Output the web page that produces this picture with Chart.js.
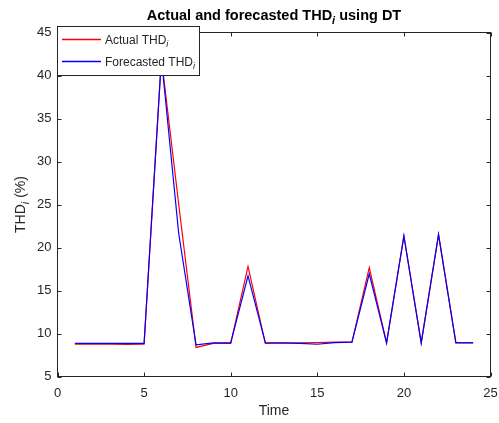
<!DOCTYPE html>
<html>
<head>
<meta charset="utf-8">
<style>
  html, body { margin: 0; padding: 0; background: #fff; }
  #wrap { width: 499px; height: 423px; }
</style>
<script src="https://cdn.jsdelivr.net/npm/chart.js@4"></script>
</head>
<body>
<div id="wrap"><canvas id="thdChart" width="499" height="423"></canvas></div>
<script>
// data
const time = [1, 2, 3, 4, 5, 6, 7, 8, 9, 10, 11, 12, 13, 14, 15, 16, 17, 18, 19, 20, 21, 22, 23, 24];
const actualThd = [8.75, 8.75, 8.75, 8.72, 8.75, 42.0, 25.0, 8.38, 8.85, 8.85, 17.8, 8.85, 8.88, 8.9, 8.95, 9.0, 9.0, 17.65, 8.9, 21.35, 8.9, 21.5, 8.95, 8.95];
const forecastThd = [8.85, 8.85, 8.85, 8.85, 8.85, 42.0, 21.6, 8.69, 8.9, 8.9, 16.7, 8.93, 8.9, 8.85, 8.75, 8.95, 9.0, 16.95, 8.9, 21.35, 8.9, 21.5, 8.9, 8.9];
const xTicks = [0, 5, 10, 15, 20, 25];
const yTicks = [5, 10, 15, 20, 25, 30, 35, 40, 45];
const seriesNames = ['Actual THD', 'Forecasted THD'];
const seriesColors = ['#ff0000', '#0000ff'];

const axisColor = '#262626';
const fontFamily = '"Liberation Sans", Arial, Helvetica, sans-serif';

// text with an italic subscript "i" after the main part
function subText(ctx, parts, x, y, size, bold, align) {
    const w = bold ? 'bold ' : '';
    const mainFont = w + size + 'px ' + fontFamily;
    const subFont = 'italic ' + w + Math.round(size * 0.75) + 'px ' + fontFamily;
    ctx.font = mainFont;
    const w0 = ctx.measureText(parts[0]).width;
    ctx.font = subFont;
    const w1 = ctx.measureText('i').width;
    ctx.font = mainFont;
    const w2 = parts[1] ? ctx.measureText(parts[1]).width : 0;
    const total = w0 + w1 + w2;
    let sx = x;
    if (align === 'center') sx = x - total / 2;
    ctx.textAlign = 'left';
    ctx.textBaseline = 'alphabetic';
    ctx.fillText(parts[0], sx, y);
    ctx.font = subFont;
    ctx.fillText('i', sx + w0, y + size * 0.3);
    ctx.font = mainFont;
    if (parts[1]) ctx.fillText(parts[1], sx + w0 + w1, y);
}

const matlabAxes = {
    id: 'matlabAxes',
    afterDatasetsDraw(chart) {
        const ctx = chart.ctx;
        const a = chart.chartArea;
        const xs = chart.scales.x, ys = chart.scales.y;
        ctx.save();
        ctx.strokeStyle = axisColor;
        ctx.lineWidth = 1;
        ctx.strokeRect(a.left, a.top, a.right - a.left, a.bottom - a.top);
        ctx.beginPath();
        xTicks.forEach(v => {
            const px = Math.round(xs.getPixelForValue(v)) + 0.5;
            ctx.moveTo(px, a.bottom); ctx.lineTo(px, a.bottom - 4);
            ctx.moveTo(px, a.top); ctx.lineTo(px, a.top + 4);
        });
        yTicks.forEach(v => {
            const py = Math.round(ys.getPixelForValue(v)) + 0.5;
            ctx.moveTo(a.left, py); ctx.lineTo(a.left + 4, py);
            ctx.moveTo(a.right, py); ctx.lineTo(a.right - 4, py);
        });
        ctx.stroke();

        // legend
        ctx.fillStyle = '#fff';
        ctx.fillRect(57.5, 26.5, 142, 49);
        ctx.strokeRect(57.5, 26.5, 142, 49);
        const rows = [39.5, 61.5];
        rows.forEach((ry, i) => {
            ctx.beginPath();
            ctx.strokeStyle = seriesColors[i];
            ctx.lineWidth = 1.3;
            ctx.moveTo(62, ry);
            ctx.lineTo(101, ry);
            ctx.stroke();
            ctx.fillStyle = axisColor;
            subText(ctx, [seriesNames[i], ''], 105, ry + 4, 12, false, 'left');
        });

        // title and axis labels
        ctx.fillStyle = '#000';
        subText(ctx, ['Actual and forecasted THD', ' using DT'], (a.left + a.right) / 2, 20, 14.5, true, 'center');
        ctx.fillStyle = axisColor;
        ctx.font = '14px ' + fontFamily;
        ctx.textAlign = 'center';
        ctx.fillText('Time', (a.left + a.right) / 2, 415);
        ctx.translate(25, (a.top + a.bottom) / 2);
        ctx.rotate(-Math.PI / 2);
        subText(ctx, ['THD', ' (%)'], 0, 0, 14, false, 'center');
        ctx.restore();
    }
};

new Chart(document.getElementById('thdChart'), {
    type: 'line',
    data: {
        labels: time,
        datasets: [{
            label: seriesNames[0],
            data: time.map((t, i) => ({ x: t, y: actualThd[i] })),
            borderColor: seriesColors[0],
            borderWidth: 1.2,
            pointRadius: 0,
            tension: 0,
            order: 1
        }, {
            label: seriesNames[1],
            data: time.map((t, i) => ({ x: t, y: forecastThd[i] })),
            borderColor: seriesColors[1],
            borderWidth: 1.2,
            pointRadius: 0,
            tension: 0,
            order: 0
        }]
    },
    options: {
        responsive: false,
        animation: false,
        layout: { autoPadding: false, padding: { left: 0, top: 32.5, right: 8.5, bottom: 0 } },
        plugins: { legend: { display: false }, title: { display: false }, tooltip: { enabled: false } },
        scales: {
            x: {
                type: 'linear', min: 0, max: 25,
                afterBuildTicks: s => { s.ticks = xTicks.map(v => ({ value: v })); },
                afterFit: s => { s.height = 46.5; s.paddingLeft = 0; s.paddingRight = 0; },
                grid: { display: false, drawTicks: false }, border: { display: false },
                ticks: { color: axisColor, padding: 9, maxRotation: 0, font: { size: 13, family: fontFamily } }
            },
            y: {
                type: 'linear', min: 5, max: 45,
                afterBuildTicks: s => { s.ticks = yTicks.map(v => ({ value: v })); },
                afterFit: s => { s.width = 57.5; s.paddingTop = 0; s.paddingBottom = 0; },
                grid: { display: false, drawTicks: false }, border: { display: false },
                ticks: { color: axisColor, padding: 6, font: { size: 13, family: fontFamily } }
            }
        }
    },
    plugins: [matlabAxes]
});
</script>
</body>
</html>
